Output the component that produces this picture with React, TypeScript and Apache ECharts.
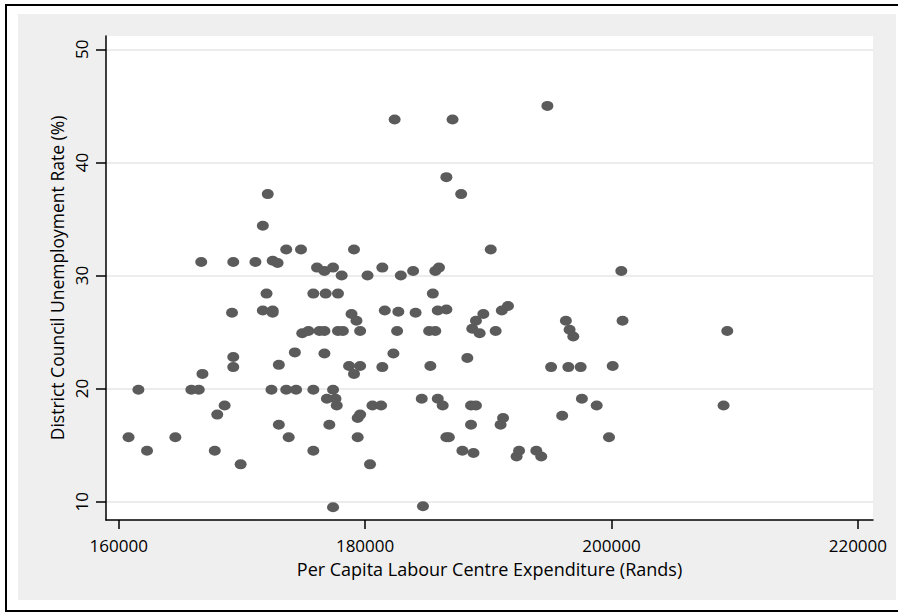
import React, { useEffect, useRef } from "react";
import * as echarts from "echarts";

// Per capita labour centre expenditure (Rands) for each district council
const expenditure: number[] = [
  182400, 187100, 172100, 186600, 187800, 171700, 173600, 174800, 179100, 190200,
  166700, 169300, 171100, 172500, 172900, 176100, 176700, 177400, 178100, 180200,
  181400, 182900, 183900, 185700, 186000, 194800, 200800, 172000, 175800, 176800,
  177800, 185500, 169200, 171700, 172500, 172500, 178900, 179300, 181600, 182700,
  184100, 185900, 186600, 189000, 189600, 188700, 189300, 191100, 191600, 174900,
  175400, 176300, 176700, 177800, 178200, 179600, 182600, 185200, 185700, 190600,
  174300, 176700, 182300, 169300, 169300, 173000, 178700, 179600, 179100, 181400,
  185300, 188300, 166800, 161600, 165900, 166500, 172400, 173600, 174400, 175800,
  177400, 176900, 177600, 177700, 168600, 168000, 180600, 181300, 184600, 185900,
  186300, 188600, 189000, 179400, 179600, 173000, 177100, 188600, 191000, 191200,
  160800, 164600, 173800, 179400, 186600, 186800, 162300, 167800, 175800, 187900,
  188800, 169900, 180400, 177400, 184700, 196300, 196600, 196900, 200900, 209400,
  195100, 196500, 197500, 200100, 197600, 198800, 209100, 196000, 199800, 192500,
  192300, 193900, 194300,
];

// District council unemployment rate (%)
const unemployment: number[] = [
  43.8, 43.8, 37.2, 38.7, 37.2, 34.4, 32.3, 32.3, 32.3, 32.3,
  31.2, 31.2, 31.2, 31.3, 31.1, 30.7, 30.4, 30.7, 30.0, 30.0,
  30.7, 30.0, 30.4, 30.4, 30.7, 45.0, 30.4, 28.4, 28.4, 28.4,
  28.4, 28.4, 26.7, 26.9, 26.9, 26.7, 26.6, 26.0, 26.9, 26.8,
  26.7, 26.9, 27.0, 26.0, 26.6, 25.3, 24.9, 26.9, 27.3, 24.9,
  25.1, 25.1, 25.1, 25.1, 25.1, 25.1, 25.1, 25.1, 25.1, 25.1,
  23.2, 23.1, 23.1, 22.8, 21.9, 22.1, 22.0, 22.0, 21.3, 21.9,
  22.0, 22.7, 21.3, 19.9, 19.9, 19.9, 19.9, 19.9, 19.9, 19.9,
  19.9, 19.1, 19.1, 18.5, 18.5, 17.7, 18.5, 18.5, 19.1, 19.1,
  18.5, 18.5, 18.5, 17.4, 17.7, 16.8, 16.8, 16.8, 16.8, 17.4,
  15.7, 15.7, 15.7, 15.7, 15.7, 15.7, 14.5, 14.5, 14.5, 14.5,
  14.3, 13.3, 13.3, 9.5, 9.6, 26.0, 25.2, 24.6, 26.0, 25.1,
  21.9, 21.9, 21.9, 22.0, 19.1, 18.5, 18.5, 17.6, 15.7, 14.5,
  14.0, 14.5, 14.0,
];

const xTicks: number[] = [160000, 180000, 200000, 220000];
const yTicks: number[] = [10, 20, 30, 40, 50];

const xTitle = "Per Capita Labour Centre Expenditure (Rands)";
const yTitle = "District Council Unemployment Rate (%)";

const FONT = "'Open Sans', 'Noto Sans', sans-serif";

export default function App() {
  const ref = useRef<HTMLDivElement>(null);

  useEffect(() => {
    if (!ref.current) return;
    const chart = echarts.init(ref.current, undefined, { renderer: "svg" });

    const points = expenditure.map((x, i) => [x, unemployment[i]]);

    chart.setOption({
      animation: false,
      backgroundColor: "#ffffff",
      graphic: [
        {
          type: "rect",
          z: -20,
          silent: true,
          shape: { x: 18, y: 14, width: 878, height: 586 },
          style: { fill: "#efefef" },
        },
        {
          type: "rect",
          z: -19,
          silent: true,
          shape: { x: 106, y: 36, width: 767, height: 484 },
          style: { fill: "#ffffff" },
        },
        {
          type: "line",
          z: 50,
          silent: true,
          shape: { x1: 5, y1: 5, x2: 898, y2: 5 },
          style: { stroke: "#000", lineWidth: 2 },
        },
        {
          type: "line",
          z: 50,
          silent: true,
          shape: { x1: 6, y1: 4, x2: 6, y2: 612 },
          style: { stroke: "#000", lineWidth: 2 },
        },
        {
          type: "line",
          z: 50,
          silent: true,
          shape: { x1: 5, y1: 611, x2: 898, y2: 611 },
          style: { stroke: "#000", lineWidth: 2 },
        },
      ],
      grid: {
        left: 106,
        top: 36,
        width: 767,
        height: 484,
        show: false,
        containLabel: false,
      },
      xAxis: {
        type: "value",
        min: 158970,
        max: 221230,
        name: xTitle,
        nameLocation: "middle",
        nameGap: 42,
        nameMoveOverlap: false,
        nameTextStyle: { fontFamily: FONT, fontSize: 18, lineHeight: 14, color: "#000" },
        axisLine: { show: true, onZero: false, lineStyle: { color: "#000", width: 1.5 } },
        axisTick: {
          show: true,
          inside: false,
          length: 9,
          customValues: xTicks,
          lineStyle: { color: "#000", width: 1.5 },
        },
        axisLabel: {
          customValues: xTicks,
          margin: 17,
          fontFamily: FONT,
          fontSize: 17,
          lineHeight: 16,
          color: "#000",
          formatter: (v: number) => String(v),
        },
        splitLine: { show: false },
      },
      yAxis: {
        type: "value",
        min: 8.38,
        max: 51.18,
        name: yTitle,
        nameLocation: "middle",
        nameGap: 40,
        nameMoveOverlap: false,
        nameTextStyle: { fontFamily: FONT, fontSize: 17.5, color: "#000" },
        axisLine: { show: true, onZero: false, lineStyle: { color: "#000", width: 1.5 } },
        axisTick: {
          show: true,
          inside: false,
          length: 10,
          customValues: yTicks,
          lineStyle: { color: "#000", width: 1.5 },
        },
        axisLabel: {
          customValues: yTicks,
          rotate: 90,
          margin: 16,
          fontFamily: FONT,
          fontSize: 17,
          color: "#000",
          formatter: (v: number) => String(v),
        },
        splitLine: { show: true, lineStyle: { color: "#e6e6e6", width: 1.5 } },
      },
      series: [
        {
          type: "scatter",
          data: points,
          symbol: "path://M0 1A1 1 0 1 1 2 1A1 1 0 1 1 0 1Z",
          symbolSize: [12, 10],
          itemStyle: { color: "#5b5b5b", opacity: 1 },
          emphasis: { disabled: true },
        },
      ],
    });

    return () => chart.dispose();
  }, []);

  return (
    <div
      ref={ref}
      style={{ position: "absolute", left: 0, top: 0, width: 898, height: 612 }}
    />
  );
}
